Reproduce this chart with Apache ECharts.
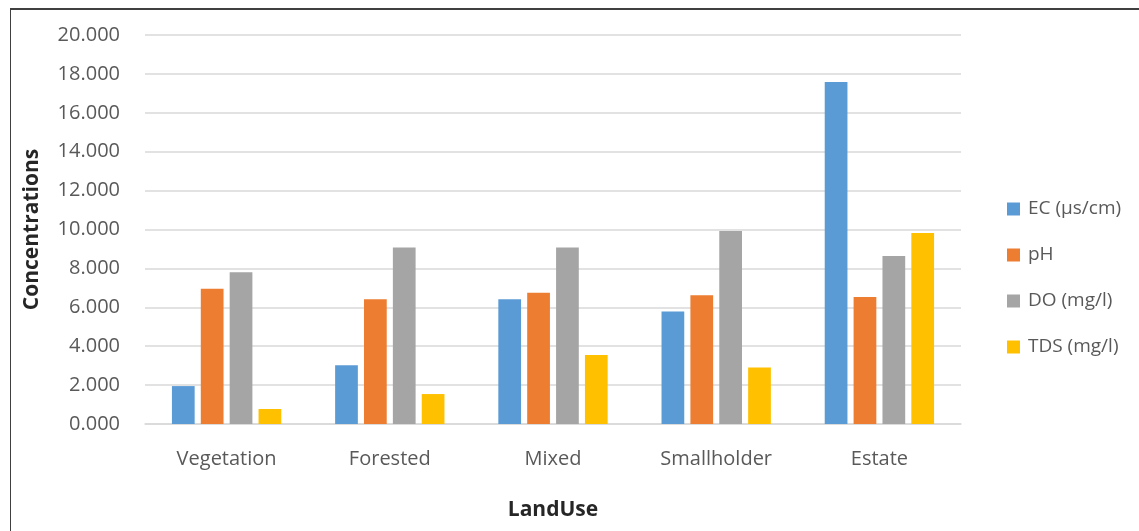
<!DOCTYPE html>
<html>
<head>
<meta charset="utf-8">
<script src="https://cdn.jsdelivr.net/npm/echarts@6/dist/echarts.min.js"></script>
<style>
  html, body { margin: 0; padding: 0; background: #fff; }
  #frame {
    position: absolute; left: 10px; top: 8px; width: 1129px; height: 523px;
    border-left: 1px solid #404040; border-top: 2px solid #404040;
    box-sizing: border-box;
  }
  #chart { position: absolute; left: 0; top: 0; width: 1139px; height: 531px; }
</style>
</head>
<body>
<div id="frame"></div>
<div id="chart"></div>
<script>
// land use categories
const categories = ["Vegetation", "Forested", "Mixed", "Smallholder", "Estate"];
const seriesNames = ["EC (\u00b5s/cm)", "pH", "DO (mg/l)", "TDS (mg/l)"];
const ecValues = [1.95, 3.02, 6.41, 5.79, 17.58];
const phValues = [6.96, 6.41, 6.75, 6.62, 6.53];
const doValues = [7.80, 9.07, 9.07, 9.92, 8.64];
const tdsValues = [0.77, 1.54, 3.55, 2.91, 9.82];
const colors = ["#5b9bd5", "#ed7d31", "#a5a5a5", "#ffc000"];

const chart = echarts.init(document.getElementById("chart"));
const font = "Open Sans";
const allValues = [ecValues, phValues, doValues, tdsValues];

const series = seriesNames.map(function (name, i) {
  return {
    name: name,
    type: "bar",
    data: allValues[i],
    barGap: "27%",
    barCategoryGap: "33%",
    itemStyle: { color: colors[i] },
    emphasis: { disabled: true },
  };
});

chart.setOption({
  animation: false,
  color: colors,
  grid: { left: 145, right: 178, top: 35, bottom: 107 },
  legend: {
    orient: "vertical",
    left: 1002,
    top: 193,
    itemWidth: 13,
    itemHeight: 13,
    itemGap: 24,
    icon: "rect",
    textStyle: { fontFamily: font, fontSize: 19, lineHeight: 22, color: "#595959", padding: [0, 0, 0, 3] },
    data: seriesNames,
  },
  xAxis: {
    type: "category",
    data: categories,
    name: "LandUse",
    nameLocation: "middle",
    nameGap: 76,
    nameTextStyle: { fontFamily: font, fontSize: 21, fontWeight: "bold", color: "#262626" },
    axisTick: { show: false },
    axisLine: { lineStyle: { color: "#d9d9d9", width: 1.5 } },
    axisLabel: { fontFamily: font, fontSize: 20, color: "#595959", margin: 25 },
  },
  yAxis: {
    type: "value",
    min: 0,
    max: 20,
    interval: 2,
    name: "Concentrations",
    nameLocation: "middle",
    nameGap: 102,
    nameTextStyle: { fontFamily: font, fontSize: 21, fontWeight: "bold", color: "#262626" },
    axisLabel: {
      fontFamily: font, fontSize: 20, color: "#595959", margin: 25,
      formatter: function (v) { return v.toFixed(3); },
    },
    splitLine: { lineStyle: { color: "#d9d9d9", width: 1.5 } },
  },
  series: series,
});
</script>
</body>
</html>
